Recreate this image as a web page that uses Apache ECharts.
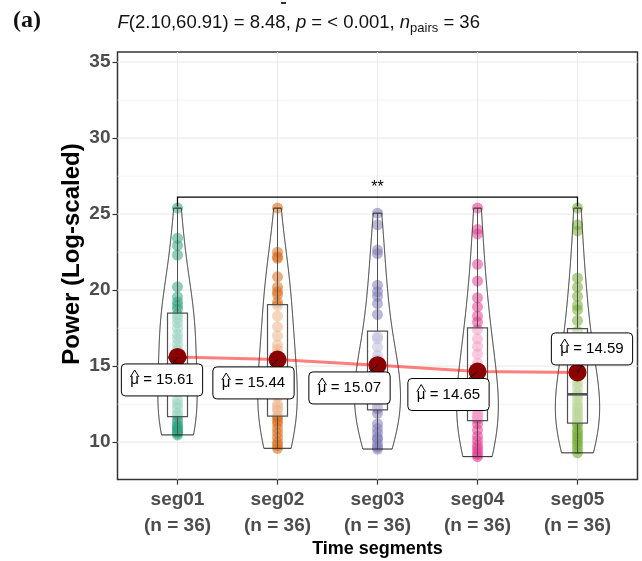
<!DOCTYPE html>
<html><head><meta charset="utf-8">
<script src="https://cdn.jsdelivr.net/npm/echarts@6/dist/echarts.min.js"></script>
<style>html,body{margin:0;padding:0;background:#fff}#c{width:642px;height:561px}</style>
</head><body><div id="c"></div>
<script>
// ---------- data ----------
const categories = ['seg01', 'seg02', 'seg03', 'seg04', 'seg05'];
const seg01 = [25.40, 23.41, 22.93, 22.31, 20.22, 19.56, 19.23, 19.00, 18.75, 18.40, 18.15, 17.85, 17.50, 17.10, 16.80, 16.45, 16.10, 15.75, 15.40, 14.80, 13.90, 13.40, 12.80, 12.50, 12.25, 11.90, 11.75, 11.50, 11.30, 11.10, 11.00, 10.90, 10.80, 10.70, 10.60, 10.48];
const seg02 = [25.40, 22.50, 22.20, 22.10, 20.88, 20.20, 19.90, 19.70, 19.20, 19.00, 18.30, 17.60, 17.00, 16.40, 16.10, 15.80, 15.40, 15.00, 14.60, 14.30, 13.90, 13.40, 13.00, 12.50, 12.30, 12.10, 11.75, 11.60, 11.40, 11.20, 10.90, 10.60, 10.30, 10.00, 9.80, 9.60];
const seg03 = [25.07, 24.30, 22.64, 22.40, 20.33, 19.90, 19.60, 19.12, 18.40, 16.95, 16.80, 16.26, 15.70, 15.40, 15.10, 14.90, 14.60, 14.40, 13.80, 13.40, 13.20, 13.10, 12.90, 12.70, 12.50, 12.30, 12.20, 11.90, 11.20, 10.90, 10.60, 10.30, 10.20, 9.90, 9.70, 9.55];
const seg04 = [25.40, 24.00, 23.70, 21.70, 20.60, 19.50, 18.90, 18.30, 17.90, 17.40, 16.80, 16.30, 15.80, 15.20, 14.70, 14.30, 14.00, 13.70, 13.40, 12.90, 12.50, 12.20, 12.00, 11.80, 11.70, 11.60, 11.50, 11.20, 10.80, 10.40, 10.10, 9.80, 9.60, 9.40, 9.20, 9.05];
const seg05 = [25.40, 24.30, 23.90, 20.80, 20.20, 19.60, 19.00, 18.70, 18.00, 17.30, 16.40, 15.80, 15.20, 14.60, 14.20, 13.90, 13.60, 13.25, 13.05, 12.80, 12.50, 12.30, 12.10, 11.90, 11.70, 11.50, 11.30, 11.10, 10.80, 10.60, 10.40, 10.20, 10.00, 9.80, 9.55, 9.30];
const means = [15.61, 15.44, 15.07, 14.65, 14.59];
const xTicks = [1, 2, 3, 4, 5];
const yTicks = [10, 15, 20, 25, 30, 35];
const yMinorTicks = [12.5, 17.5, 22.5, 27.5, 32.5];
const bracketX = [1, 5];
const bracketY = [26.12, 25.5];
const bracketLabel = '**';
const titleParts = [
  {t: 'F', it: true}, {t: '(2.10,60.91) = 8.48, '}, {t: 'p', it: true},
  {t: ' = < 0.001, '}, {t: 'n', it: true}, {t: 'pairs', sub: true}, {t: ' = 36'}
];
const panelTag = '(a)';
const yTitle = 'Power (Log-scaled)';
const xTitle = 'Time segments';

// ---------- layout / style ----------
const colors = ['#1B9E77', '#D95F02', '#7570B3', '#E7298A', '#66A61E'];
const FF = '"Liberation Sans", Arial, sans-serif';
const X_MIN = 0.4, X_MAX = 5.6, Y_MIN = 7.54, Y_MAX = 35.67;
const VIOLIN_HALF = 0.23, BW_ADJUST = 1.5;
const labelOffsets = [[-15.5, 23], [-24, 23.4], [-28, 22.8], [-29, 23], [14.5, -23.5]];

const groups = [seg01, seg02, seg03, seg04, seg05];

const mctx = document.createElement('canvas').getContext('2d');
function tw(s, size, weight, style, family) {
  mctx.font = (style || 'normal') + ' ' + (weight || 'normal') + ' ' + size + 'px ' + (family || FF);
  return mctx.measureText(s).width;
}
function q7(s, p) {
  const h = (s.length - 1) * p, lo = Math.floor(h);
  const hi = Math.min(lo + 1, s.length - 1);
  return s[lo] + (h - lo) * (s[hi] - s[lo]);
}
const stats = groups.map(arr => {
  const s = arr.slice().sort((a, b) => a - b);
  const n = s.length;
  const q1 = q7(s, 0.25), med = q7(s, 0.5), q3 = q7(s, 0.75);
  const iqr = q3 - q1;
  const lo = s.find(v => v >= q1 - 1.5 * iqr);
  const hi = s.slice().reverse().find(v => v <= q3 + 1.5 * iqr);
  const mu = s.reduce((a, b) => a + b, 0) / n;
  const sd = Math.sqrt(s.reduce((a, b) => a + (b - mu) * (b - mu), 0) / (n - 1));
  const bw = BW_ADJUST * 0.9 * Math.min(sd, iqr / 1.34) * Math.pow(n, -0.2);
  return {s, n, q1, med, q3, lo, hi, min: s[0], max: s[n - 1], bw};
});
const dens = stats.map(st => {
  const ys = [], ds = [];
  const K = 512;
  for (let k = 0; k < K; k++) {
    const y = st.min + (st.max - st.min) * k / (K - 1);
    let d = 0;
    for (const v of st.s) { const z = (y - v) / st.bw; d += Math.exp(-0.5 * z * z); }
    d /= (st.n * st.bw * Math.sqrt(2 * Math.PI));
    ys.push(y); ds.push(d);
  }
  return {ys, ds};
});
const gmax = Math.max(...dens.map(d => Math.max(...d.ds)));

// ---------- series ----------
const series = [];
series.push({
  type: 'custom', z: 1, silent: true,
  data: yTicks.map(v => [1, v, 1]).concat(yMinorTicks.map(v => [1, v, 0])),
  renderItem(params, api) {
    const v = api.value(1), major = api.value(2) === 1;
    const a = api.coord([X_MIN, v]), b = api.coord([X_MAX, v]);
    return {type: 'line', shape: {x1: a[0], y1: a[1], x2: b[0], y2: b[1]},
      style: {stroke: major ? '#EBEBEB' : '#F3F3F3', lineWidth: major ? 1.2 : 0.8}};
  }
});
series.push({
  type: 'custom', z: 1, silent: true,
  data: xTicks.map(v => [v, 10]),
  renderItem(params, api) {
    const g = api.value(0);
    const a = api.coord([g, Y_MIN]), b = api.coord([g, Y_MAX]);
    return {type: 'line', shape: {x1: a[0], y1: a[1], x2: b[0], y2: b[1]},
      style: {stroke: '#EBEBEB', lineWidth: 1.2}};
  }
});
groups.forEach((arr, i) => {
  series.push({
    type: 'scatter', z: 2, silent: true, symbolSize: 11,
    data: arr.map(v => [xTicks[i], v]),
    itemStyle: {color: colors[i], opacity: 0.55}
  });
});
series.push({
  type: 'custom', z: 3, silent: true,
  data: stats.map((st, i) => [xTicks[i], st.med]),
  renderItem(params, api) {
    const st = stats[params.dataIndex], g = api.value(0), hw = 0.1;
    const tl = api.coord([g - hw, st.q3]), br = api.coord([g + hw, st.q1]);
    const c3 = api.coord([g, st.q3]), cHi = api.coord([g, st.hi]);
    const c1 = api.coord([g, st.q1]), cLo = api.coord([g, st.lo]);
    const mL = api.coord([g - hw, st.med]), mR = api.coord([g + hw, st.med]);
    return {type: 'group', children: [
      {type: 'line', shape: {x1: c3[0], y1: c3[1], x2: cHi[0], y2: cHi[1]}, style: {stroke: '#444', lineWidth: 1}},
      {type: 'line', shape: {x1: c1[0], y1: c1[1], x2: cLo[0], y2: cLo[1]}, style: {stroke: '#444', lineWidth: 1}},
      {type: 'rect', shape: {x: tl[0], y: tl[1], width: br[0] - tl[0], height: br[1] - tl[1]},
        style: {fill: 'rgba(255,255,255,0.5)', stroke: '#444', lineWidth: 1.2}},
      {type: 'line', shape: {x1: mL[0], y1: mL[1], x2: mR[0], y2: mR[1]}, style: {stroke: '#444', lineWidth: 2.6}}
    ]};
  }
});
series.push({
  type: 'custom', z: 4, silent: true,
  data: stats.map((st, i) => [xTicks[i], st.med]),
  renderItem(params, api) {
    const d = dens[params.dataIndex], g = api.value(0);
    const right = [], left = [];
    for (let k = 0; k < d.ys.length; k++) {
      const hw = VIOLIN_HALF * d.ds[k] / gmax;
      right.push(api.coord([g + hw, d.ys[k]]));
      left.push(api.coord([g - hw, d.ys[k]]));
    }
    return {type: 'polygon', shape: {points: right.concat(left.reverse())},
      style: {fill: 'rgba(255,255,255,0.08)', stroke: '#222', lineWidth: 1}};
  }
});
series.push({
  type: 'line', z: 5, silent: true, showSymbol: false, symbol: 'none',
  data: means.map((m, i) => [xTicks[i], m]),
  lineStyle: {color: 'rgba(255,0,0,0.5)', width: 3}
});
series.push({
  type: 'scatter', z: 6, silent: true, symbolSize: 18,
  data: means.map((m, i) => [xTicks[i], m]),
  itemStyle: {color: '#8B0000', opacity: 1}
});
series.push({
  type: 'custom', z: 7, silent: true,
  data: means.map((m, i) => [xTicks[i], m]),
  renderItem(params, api) {
    const g = api.value(0), m = api.value(1);
    const p = api.coord([g, m]);
    const off = labelOffsets[params.dataIndex];
    const fs = 15;
    const txt = '\u03bc = ' + m.toFixed(2);
    const w = tw(txt, fs) + 18, h = 32;
    const cx = p[0] + off[0], cy = p[1] + off[1];
    const x0 = cx - w / 2, y0 = cy - h / 2;
    const dx = cx - p[0], dy = cy - p[1];
    const tx = dx > 0 ? (x0 - p[0]) / dx : dx < 0 ? (x0 + w - p[0]) / dx : -Infinity;
    const ty = dy > 0 ? (y0 - p[1]) / dy : dy < 0 ? (y0 + h - p[1]) / dy : -Infinity;
    const t = Math.max(tx, ty, 0);
    const ex = p[0] + t * dx, ey = p[1] + t * dy;
    const tX = x0 + 9;
    const wm = tw('\u03bc', fs);
    const baseline = cy + 0.36 * fs;
    const hatBase = baseline - 0.52 * fs - 0.5;
    return {type: 'group', children: [
      {type: 'line', shape: {x1: p[0], y1: p[1], x2: ex, y2: ey}, style: {stroke: '#000', lineWidth: 1}},
      {type: 'rect', shape: {x: x0, y: y0, width: w, height: h, r: 4}, style: {fill: '#fff', stroke: '#000', lineWidth: 1}},
      {type: 'text', style: {text: txt, x: tX, y: cy, fontSize: fs, fontFamily: FF, fill: '#000', align: 'left', verticalAlign: 'middle'}},
      {type: 'polyline', shape: {points: [[tX, hatBase], [tX + wm / 2, hatBase - 7], [tX + wm, hatBase]]},
        style: {stroke: '#000', lineWidth: 1, fill: null}}
    ]};
  }
});
series.push({
  type: 'custom', z: 7, silent: true,
  data: [[bracketX[0], bracketY[0], bracketX[1], bracketY[1]]],
  renderItem(params, api) {
    const a = api.coord([api.value(0), api.value(3)]);
    const b = api.coord([api.value(0), api.value(1)]);
    const c = api.coord([api.value(2), api.value(1)]);
    const d = api.coord([api.value(2), api.value(3)]);
    return {type: 'group', children: [
      {type: 'polyline', shape: {points: [a, b, c, d]}, style: {stroke: '#000', lineWidth: 1.2, fill: null}},
      {type: 'text', style: {text: bracketLabel, x: (b[0] + c[0]) / 2, y: b[1] - 2, fontSize: 16, fontFamily: FF, fill: '#000', align: 'center', verticalAlign: 'bottom'}}
    ]};
  }
});

// ---------- title graphics ----------
const gElems = [];
let tx = 117.5;
const TS = 18.5, TY = 23;
titleParts.forEach(pt => {
  const size = pt.sub ? 13 : TS;
  const style = pt.it ? 'italic' : 'normal';
  gElems.push({type: 'text', x: tx, y: pt.sub ? TY + 5 : TY, silent: true,
    style: {text: pt.t, fontSize: size, fontStyle: style, fontFamily: FF, fill: '#111', align: 'left', verticalAlign: 'middle'}});
  tx += tw(pt.t, size, 'normal', style);
});
gElems.push({type: 'text', x: 13, y: 21, silent: true,
  style: {text: panelTag, fontSize: 24, fontWeight: 'bold', fontFamily: '"Liberation Serif", "Times New Roman", serif', fill: '#111', align: 'left', verticalAlign: 'middle'}});
gElems.push({type: 'text', x: 72.5, y: 254, rotation: Math.PI / 2, silent: true,
  style: {text: yTitle, fontSize: 24, fontWeight: 'bold', fontFamily: FF, fill: '#000', align: 'center', verticalAlign: 'middle'}});
gElems.push({type: 'text', x: 377.5, y: 549, silent: true,
  style: {text: xTitle, fontSize: 18, fontWeight: 'bold', fontFamily: FF, fill: '#000', align: 'center', verticalAlign: 'middle'}});
gElems.push({type: 'rect', silent: true, shape: {x: 281, y: 2, width: 5, height: 2}, style: {fill: '#333'}});

const chart = echarts.init(document.getElementById('c'), null, {renderer: 'canvas', width: 642, height: 561});
chart.setOption({
  animation: false,
  backgroundColor: '#fff',
  grid: {left: 117.5, right: 4.5, top: 52, bottom: 81.4, containLabel: false, outerBoundsMode: 'none',
    show: true, borderColor: '#333', borderWidth: 1.5, backgroundColor: 'transparent'},
  xAxis: {
    type: 'value', min: X_MIN, max: X_MAX,
    axisLine: {show: false}, splitLine: {show: false},
    axisTick: {show: true, customValues: xTicks, length: 5, lineStyle: {color: '#333', width: 1.2}},
    axisLabel: {show: true, customValues: xTicks, margin: 7, fontSize: 19, fontWeight: 'bold', color: '#4D4D4D',
      fontFamily: FF, lineHeight: 26,
      formatter: v => { const i = Math.round(v) - 1; return categories[i] + '\n(n = ' + groups[i].length + ')'; }}
  },
  yAxis: {
    type: 'value', min: Y_MIN, max: Y_MAX,
    axisLine: {show: false}, splitLine: {show: false},
    axisTick: {show: true, customValues: yTicks, length: 5, lineStyle: {color: '#333', width: 1.2}},
    axisLabel: {show: true, customValues: yTicks, margin: 7, fontSize: 19, fontWeight: 'bold', color: '#4D4D4D',
      fontFamily: FF, formatter: v => String(v)}
  },
  graphic: {elements: gElems},
  series
});
</script></body></html>
